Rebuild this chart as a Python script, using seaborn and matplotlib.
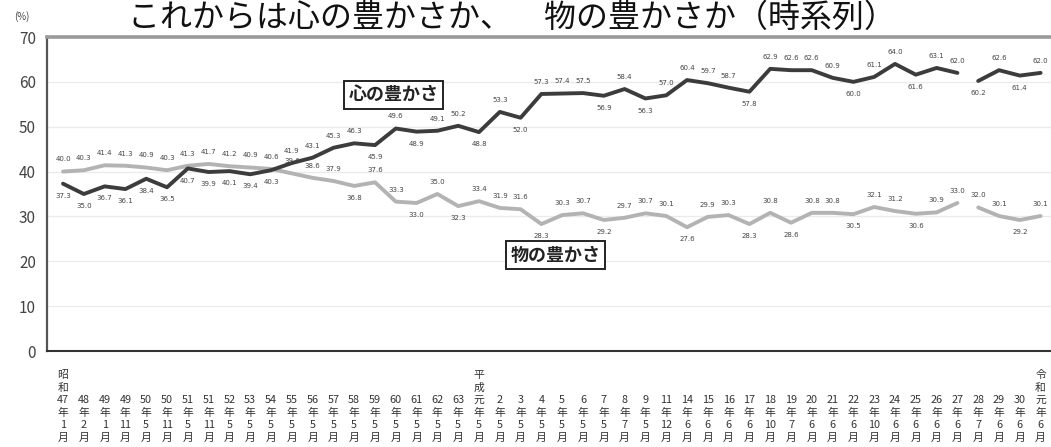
import numpy as np
import pandas as pd
import matplotlib
matplotlib.use("Agg")
import matplotlib.pyplot as plt
import matplotlib.transforms as mtransforms
import seaborn as sns

# survey dates (era label, year, month)
era = ['昭和'] + [''] * 19 + ['平成'] + [''] * 26 + ['令和']
years = ['47', '48', '49', '49', '50', '50', '51', '51', '52', '53', '54', '55', '56', '57',
         '58', '59', '60', '61', '62', '63', '元', '2', '3', '4', '5', '6', '7', '8', '9',
         '11', '14', '15', '16', '17', '18', '19', '20', '21', '22', '23', '24', '25', '26',
         '27', '28', '29', '30', '元']
months = ['1', '2', '1', '11', '5', '11', '5', '11', '5', '5', '5', '5', '5', '5',
          '5', '5', '5', '5', '5', '5', '5', '5', '5', '5', '5', '5', '5', '7', '5',
          '12', '6', '6', '6', '6', '10', '7', '6', '6', '6', '10', '6', '6', '6',
          '6', '7', '6', '6', '6']

# 心の豊かさ (%)
kokoro = [37.3, 35.0, 36.7, 36.1, 38.4, 36.5, 40.7, 39.9, 40.1, 39.4, 40.3, 41.9, 43.1, 45.3,
          46.3, 45.9, 49.6, 48.9, 49.1, 50.2, 48.8, 53.3, 52.0, 57.3, 57.4, 57.5, 56.9, 58.4,
          56.3, 57.0, 60.4, 59.7, 58.7, 57.8, 62.9, 62.6, 62.6, 60.9, 60.0, 61.1, 64.0, 61.6,
          63.1, 62.0, 60.2, 62.6, 61.4, 62.0]
# 物の豊かさ (%)
mono = [40.0, 40.3, 41.4, 41.3, 40.9, 40.3, 41.3, 41.7, 41.2, 40.9, 40.6, 39.6, 38.6, 37.9,
        36.8, 37.6, 33.3, 33.0, 35.0, 32.3, 33.4, 31.9, 31.6, 28.3, 30.3, 30.7, 29.2, 29.7,
        30.7, 30.1, 27.6, 29.9, 30.3, 28.3, 30.8, 28.6, 30.8, 30.8, 30.5, 32.1, 31.2, 30.6,
        30.9, 33.0, 32.0, 30.1, 29.2, 30.1]

n = len(years)
idx = np.arange(n)
seg = np.where(idx <= 43, 0, 1)   # break in the series between 27年 and 28年
df = pd.DataFrame({'idx': idx, 'seg': seg, '心の豊かさ': kokoro, '物の豊かさ': mono})

sns.set_theme(style='white')
plt.rcParams['font.family'] = ['Noto Sans CJK JP', 'DejaVu Sans']

fig = plt.figure(figsize=(10.51, 4.47), dpi=100)
ax = fig.add_axes([47 / 1051, 1 - 351 / 447, 1 - 47 / 1051, 314 / 447])

dark = '#3c3c3c'
light = '#b3b3b3'
sns.lineplot(data=df, x='idx', y='物の豊かさ', units='seg', estimator=None,
             color=light, lw=2.8, ax=ax)
sns.lineplot(data=df, x='idx', y='心の豊かさ', units='seg', estimator=None,
             color=dark, lw=2.8, ax=ax)

# value labels
def put_labels(vals, always_below_until=None, always_above_until=None):
    for i, v in enumerate(vals):
        left = vals[i - 1] if i > 0 else v
        right = vals[i + 1] if i < n - 1 else v
        below = v < left and v < right
        if always_below_until is not None and i <= always_below_until:
            below = True
        if always_above_until is not None and i <= always_above_until:
            below = False
        off = -2.7 if below else 2.7
        ax.text(i, v + off, f'{v:.1f}', ha='center', va='center', fontsize=5,
                color='#444', family='DejaVu Sans')

put_labels(kokoro, always_below_until=10)
put_labels(mono, always_above_until=10)

ax.set_xlim(-0.77, 47.5)
ax.set_ylim(0, 70)
ax.set_yticks(range(0, 71, 10))
ax.set_yticklabels([str(v) for v in range(0, 71, 10)], fontsize=11, color='#444')
ax.tick_params(axis='y', length=0, pad=8)
ax.set_xticks(idx)
ax.set_xticklabels([])
ax.tick_params(axis='x', direction='in', length=3, width=0.8, color='#777')
ax.set_xlabel('')
ax.set_ylabel('')

for y in range(10, 61, 10):
    ax.axhline(y, color='#ebebeb', lw=1.0, zorder=0)

ax.spines['right'].set_visible(False)
ax.spines['top'].set_color('#9a9a9a')
ax.spines['top'].set_linewidth(2.6)
ax.spines['left'].set_color('#555')
ax.spines['left'].set_linewidth(1.6)
ax.spines['bottom'].set_color('#333')
ax.spines['bottom'].set_linewidth(1.5)

# series name boxes
box = dict(boxstyle='square,pad=0.25', fc='white', ec='#222', lw=1.4)
ax.text(15.9, 57.1, '心の豊かさ', ha='center', va='center', fontsize=13,
        fontweight='bold', color='#222', bbox=box)
ax.text(23.7, 21.4, '物の豊かさ', ha='center', va='center', fontsize=13,
        fontweight='bold', color='#222', bbox=box)

# x labels (vertical stacked Japanese)
trans = mtransforms.blended_transform_factory(ax.transData, fig.transFigure)
for i in range(n):
    parts = list(era[i]) + [years[i], '年', months[i], '月']
    ax.text(i, 0.01, '\n'.join(parts), transform=trans, ha='center', va='bottom',
            fontsize=7.8, linespacing=1.3, color='#333')

fig.text(22 / 1051, 1 - 17 / 447, '(%)', fontsize=7, color='#444', ha='center', va='center')
fig.text(128 / 1051, 1 - 18 / 447, 'これからは心の豊かさか、　物の豊かさか（時系列）',
         fontsize=23, color='#111', ha='left', va='center')

fig.savefig('out.png', dpi=100)
